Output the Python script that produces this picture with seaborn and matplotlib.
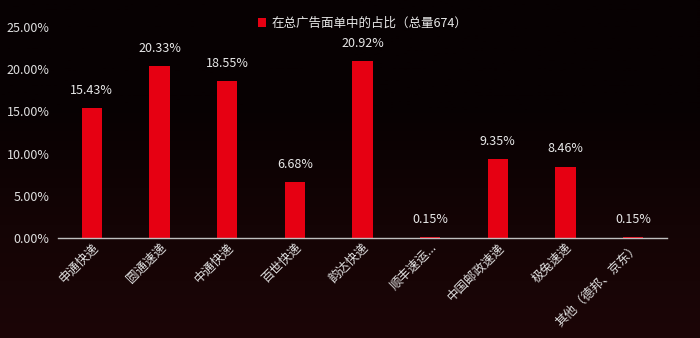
import matplotlib
matplotlib.use("Agg")
import matplotlib.pyplot as plt
import seaborn as sns
import numpy as np
import pandas as pd
from matplotlib.ticker import FuncFormatter

categories = ["申通快递", "圆通速递", "中通快递", "百世快递", "韵达快递",
              "顺丰速运...", "中国邮政速递", "极兔速递", "其他（德邦、京东）"]
values = [15.43, 20.33, 18.55, 6.68, 20.92, 0.15, 9.35, 8.46, 0.15]
legend_label = "在总广告面单中的占比（总量674）"

sns.set_theme(style="dark")
plt.rcParams['font.family'] = ['Noto Sans CJK SC', 'DejaVu Sans']

df = pd.DataFrame({"cat": categories, "val": values})

fig = plt.figure(figsize=(7, 3.38), dpi=100)
fig.patch.set_facecolor("#070102")

# background gradient (dark red tint in lower part)
bg = fig.add_axes([0, 0, 1, 1], zorder=-10)
grad = np.linspace(0, 1, 200).reshape(-1, 1)
bg.imshow(grad, aspect="auto", extent=[0, 1, 0, 1], origin="upper",
          cmap=matplotlib.colors.LinearSegmentedColormap.from_list(
              "g", ["#070102", "#080102", "#140405", "#1c0607"]))
bg.set_axis_off()

ax = fig.add_axes([58 / 700, 1 - 238 / 338, 609 / 700, (238 - 27) / 338])
ax.set_facecolor("none")
sns.barplot(data=df, x="cat", y="val", color="#e60012", width=0.3,
            saturation=1, ax=ax, label=legend_label, linewidth=0,
            edgecolor="none")
ax.set_ylim(0, 25)
ax.set_yticks([0, 5, 10, 15, 20, 25])
ax.yaxis.set_major_formatter(FuncFormatter(lambda v, p: f"{v:.2f}%"))
ax.set_xlabel("")
ax.set_ylabel("")
ax.grid(False)
for s in ["top", "right", "left"]:
    ax.spines[s].set_visible(False)
ax.spines["bottom"].set_color("#bfbfbf")
ax.spines["bottom"].set_linewidth(1)
ax.tick_params(axis="y", colors="#e0e0e0", labelsize=9, length=0, pad=6)
ax.tick_params(axis="x", colors="#e0e0e0", labelsize=9, length=0, pad=2)
for lab in ax.get_xticklabels():
    lab.set_rotation(45)
    lab.set_ha("right")
    lab.set_va("top")
    lab.set_rotation_mode("anchor")

for c in ax.containers:
    ax.bar_label(c, labels=[f"{v:.2f}%" for v in values], padding=8,
                 color="#e8e8e8", fontsize=9)

leg = ax.legend(loc="upper center", bbox_to_anchor=(0.5, 1.1), frameon=False,
                fontsize=9, handlelength=0.7, handleheight=0.7,
                handletextpad=0.4, labelcolor="#e8e8e8")
for h in leg.legend_handles:
    h.set_edgecolor("none")

fig.savefig("out.png", dpi=100, facecolor=fig.get_facecolor())
